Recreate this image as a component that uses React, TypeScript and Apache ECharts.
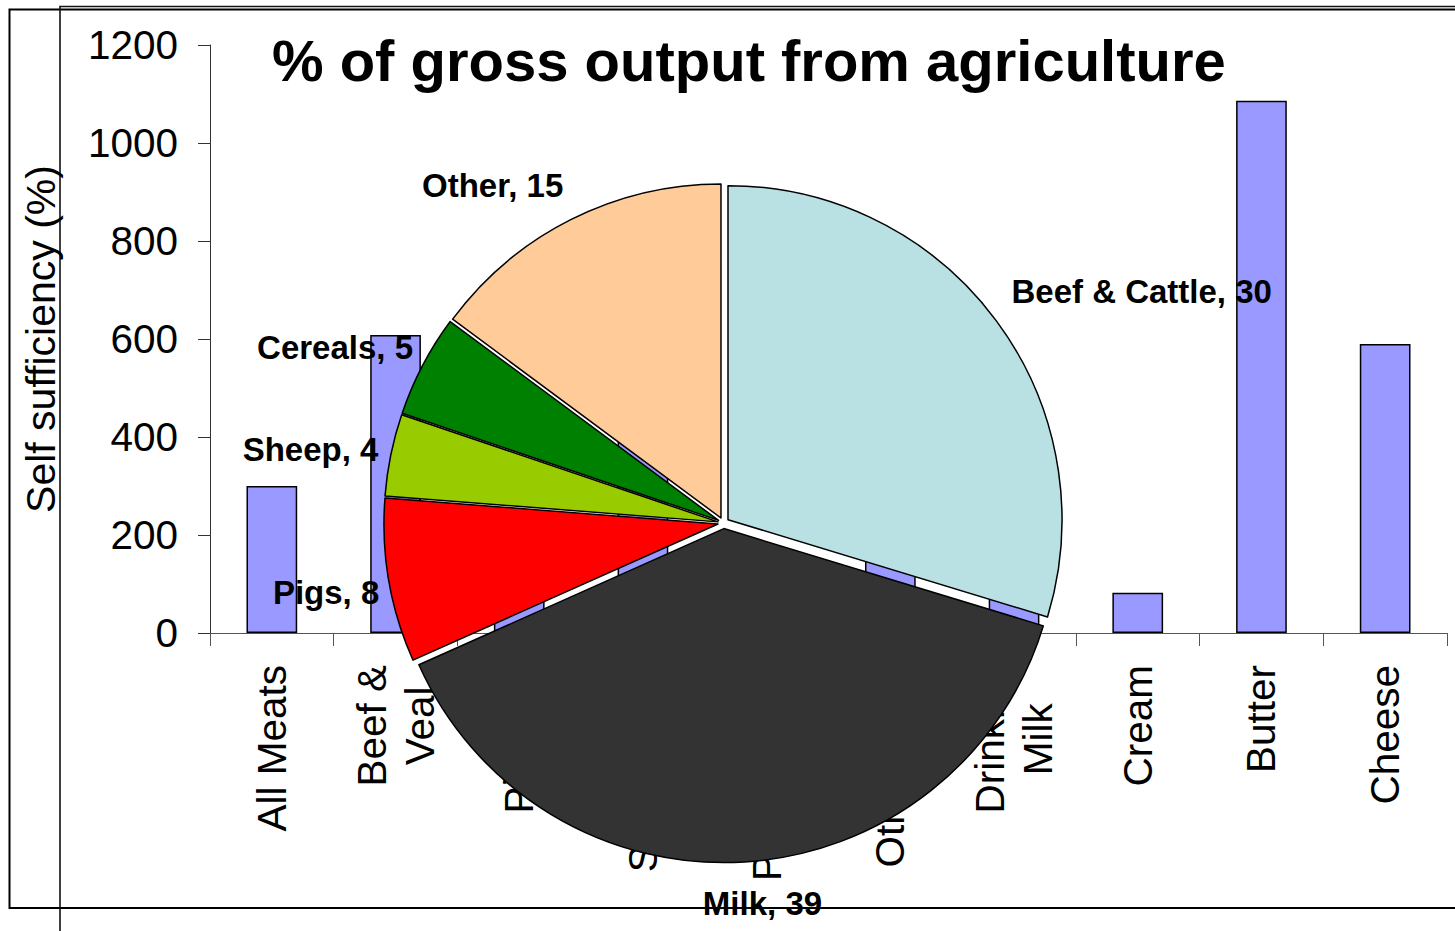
import React, { useEffect, useRef } from 'react';
import * as echarts from 'echarts';

const FONT = '"Liberation Sans", Arial, Helvetica, sans-serif';

// Bar chart data (self sufficiency, %)
const categories = [
  'All Meats',
  'Beef &\nVeal',
  'Pigmeat',
  'Sheepmeat',
  'Poultrymeat',
  'Other meat',
  'Drinking\nMilk',
  'Cream',
  'Butter',
  'Cheese',
];
const selfSufficiency = [300, 608, 150, 420, 95, 180, 100, 82, 1086, 590];
const yMin = 0;
const yMax = 1200;
const yInterval = 200;

// Pie chart data (% of gross output from agriculture)
const pieNames = ['Beef & Cattle', 'Milk', 'Pigs', 'Sheep', 'Cereals', 'Other'];
const pieValues = [30, 39, 8, 4, 5, 15];
const pieColors = ['#B9E0E3', '#333333', '#FF0000', '#99CC00', '#008000', '#FFCC99'];

const titleText = '% of gross output from agriculture';
const yAxisTitle = 'Self sufficiency (%)';

// label placement tweaks (style only), in pixels, per pie slice
const pieLabelNudge = [
  [-9, -11],
  [16, -5],
  [20, 7],
  [17, 1],
  [17, -4],
  [6, -7],
];

export default function App() {
  const ref = useRef<HTMLDivElement>(null);

  useEffect(() => {
    if (!ref.current) return;
    const chart = echarts.init(ref.current, undefined, { renderer: 'svg' });

    const option: any = {
      animation: false,
      backgroundColor: '#fff',
      title: {
        text: titleText,
        left: 267,
        top: 26,
        textStyle: { fontSize: 58, fontWeight: 'bold', fontFamily: FONT, color: '#000' },
      },
      grid: { left: 210, right: 8, top: 45, bottom: 298, containLabel: false },
      xAxis: {
        type: 'category',
        data: categories,
        boundaryGap: true,
        axisLine: { lineStyle: { color: '#555', width: 1 } },
        axisTick: { show: true, length: 13, lineStyle: { color: '#555', width: 1 } },
        axisLabel: {
          rotate: 90,
          margin: 32,
          interval: 0,
          color: '#000',
          fontSize: 40.5,
          fontFamily: FONT,
          formatter: (v: string) => v.split('\n').map((s) => `{c|${s}}`).join('\n'),
          rich: { c: { align: 'center', fontSize: 40.5, fontFamily: FONT, color: '#000', lineHeight: 48 } },
        },
      },
      yAxis: {
        type: 'value',
        min: yMin,
        max: yMax,
        interval: yInterval,
        name: yAxisTitle,
        nameLocation: 'middle',
        nameGap: 149,
        nameTextStyle: { fontSize: 41, fontFamily: FONT, color: '#000' },
        axisLine: { show: true, lineStyle: { color: '#333', width: 1 } },
        axisTick: { show: true, length: 12, lineStyle: { color: '#333', width: 1 } },
        splitLine: { show: false },
        axisLabel: {
          margin: 32,
          color: '#000',
          fontSize: 40.5,
          fontFamily: FONT,
          formatter: (v: number) => String(v),
        },
      },
      series: [
        {
          type: 'bar',
          data: selfSufficiency,
          barWidth: '41%',
          z: 2,
          itemStyle: { color: '#9999FF', borderColor: '#000', borderWidth: 1.5 },
          emphasis: { disabled: true },
        },
        {
          type: 'pie',
          center: [723.5, 523],
          radius: 334,
          startAngle: 90,
          clockwise: true,
          selectedMode: 'multiple',
          selectedOffset: 5.6,
          avoidLabelOverlap: false,
          z: 5,
          emphasis: { disabled: true },
          itemStyle: { borderColor: '#000', borderWidth: 1.5 },
          label: {
            show: true,
            position: 'outside',
            formatter: '{b}, {c}',
            fontSize: 33,
            fontWeight: 'bold',
            fontFamily: FONT,
            color: '#000',
            distanceToLabelLine: 0,
          },
          labelLine: { show: false, length: 30, length2: 0 },
          labelLayout: (p: any) => {
            const n = pieLabelNudge[p.dataIndex] || [0, 0];
            const base: any = { dx: n[0], dy: n[1] };
            if (p.dataIndex === 1) {
              base.align = 'center';
              base.verticalAlign = 'top';
            }
            return base;
          },
          data: pieNames.map((n, i) => ({
            name: n,
            value: pieValues[i],
            selected: true,
            itemStyle: { color: pieColors[i] },
          })),
        },
      ],
      graphic: [
        {
          type: 'rect',
          z: 0,
          silent: true,
          shape: { x: 9.5, y: 9.5, width: 1500, height: 898.5 },
          style: { fill: 'none', stroke: '#000', lineWidth: 2 },
        },
        {
          type: 'polyline',
          z: 0,
          silent: true,
          shape: { points: [[60, 1000], [60, 6.5], [1500, 6.5]] },
          style: { fill: 'none', stroke: '#111', lineWidth: 1.6 },
        },
      ],
    };

    chart.setOption(option);
    return () => chart.dispose();
  }, []);

  return (
    <div
      ref={ref}
      style={{ position: 'fixed', left: 0, top: 0, width: 1455, height: 931 }}
    />
  );
}
